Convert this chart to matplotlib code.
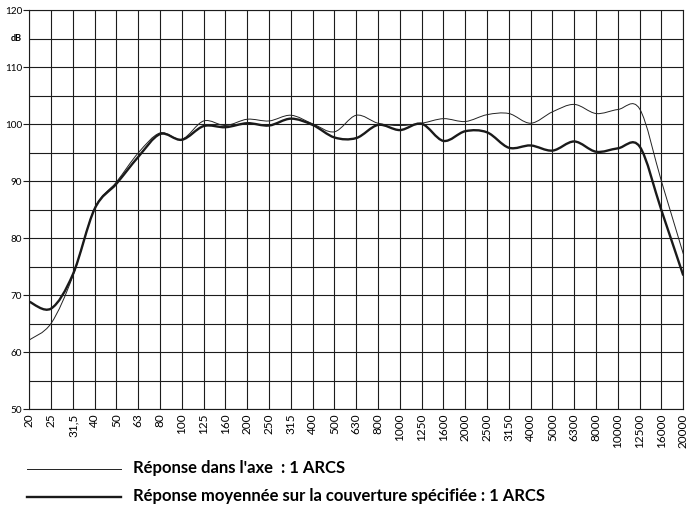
import numpy as np
import matplotlib
matplotlib.use("Agg")
import matplotlib.pyplot as plt
from matplotlib.path import Path
from matplotlib.patches import PathPatch
from matplotlib.lines import Line2D

plt.rcParams['font.family'] = ['Lato', 'DejaVu Sans']

# Third-octave bands (Hz) and measured levels (dB)
freqs = ["20", "25", "31,5", "40", "50", "63", "80", "100", "125", "160",
         "200", "250", "315", "400", "500", "630", "800", "1000", "1250", "1600",
         "2000", "2500", "3150", "4000", "5000", "6300", "8000", "10000", "12500",
         "16000", "20000"]

axe = [62.2, 65.1, 73.4, 85.3, 89.9, 95.0, 98.5, 97.4, 100.6, 99.8,
       100.9, 100.6, 101.6, 100.1, 98.7, 101.6, 100.2, 99.8, 100.2, 101.0,
       100.5, 101.7, 101.9, 100.2, 102.2, 103.5, 101.9, 102.6, 102.7,
       90.0, 77.3]

moyenne = [68.9, 67.7, 73.7, 85.2, 89.6, 94.3, 98.3, 97.3, 99.7, 99.5,
           100.2, 99.8, 101.0, 99.9, 97.7, 97.6, 99.9, 99.0, 100.1, 97.1,
           98.8, 98.6, 95.9, 96.3, 95.4, 97.0, 95.2, 95.8, 96.1,
           84.9, 73.5]

yticks = [50, 60, 70, 80, 90, 100, 110, 120]


def smooth_path(x, y):
    # Catmull-Rom segments drawn as cubic Bezier curves through the points
    pts = np.column_stack([x, y]).astype(float)
    n = len(pts)
    verts = [pts[0]]
    codes = [Path.MOVETO]
    for i in range(n - 1):
        p0 = pts[i - 1] if i > 0 else pts[i]
        p1 = pts[i]
        p2 = pts[i + 1]
        p3 = pts[i + 2] if i + 2 < n else pts[i + 1]
        c1 = p1 + (p2 - p0) / 6.0
        c2 = p2 - (p3 - p1) / 6.0
        verts += [c1, c2, p2]
        codes += [Path.CURVE4] * 3
    return Path(verts, codes)


fig = plt.figure(figsize=(6.89, 5.08), dpi=100)
ax = fig.add_axes([0.0425, 0.1939, 0.9492, 0.7858])

x = np.arange(len(freqs))
ax.set_xlim(0, len(freqs) - 1)
ax.set_ylim(50, 120)

grid_col = "#1c1c1c"
for xi in x:
    ax.axvline(xi, color=grid_col, lw=0.8, zorder=1)
for yv in range(50, 121, 5):
    ax.axhline(yv, color=grid_col, lw=0.8, zorder=1)

ax.add_patch(PathPatch(smooth_path(x, axe), fill=False, ec="#222222",
                       lw=0.7, zorder=3))
ax.add_patch(PathPatch(smooth_path(x, moyenne), fill=False, ec="#1a1a1a",
                       lw=1.7, zorder=4))

for s in ax.spines.values():
    s.set_color(grid_col)
    s.set_linewidth(0.8)

ax.set_xticks(x)
ax.set_xticklabels(freqs, rotation=90, fontsize=8.5, va="top")
ax.tick_params(axis="x", length=0, pad=3)
ax.set_yticks(yticks)
ax.set_yticklabels([str(v) for v in yticks], fontsize=7.2)
ax.tick_params(axis="y", length=4, width=0.8, color=grid_col, pad=1)
ax.text(-0.012, 115, "dB", transform=ax.get_yaxis_transform(), ha="right",
        va="center", fontsize=6.5, fontweight="bold")

# legend drawn under the chart
W, H = 689.0, 508.0
fig.add_artist(Line2D([27 / W, 121 / W], [1 - 469 / H, 1 - 469 / H],
                      color="#222222", lw=0.7))
fig.add_artist(Line2D([27 / W, 121 / W], [1 - 497 / H, 1 - 497 / H],
                      color="#1a1a1a", lw=1.7))
fig.text(133 / W, 1 - 468 / H, "Réponse dans l'axe  : 1 ARCS",
         fontsize=12, fontweight="bold", va="center", ha="left")
fig.text(133 / W, 1 - 496 / H,
         "Réponse moyennée sur la couverture spécifiée : 1 ARCS",
         fontsize=12, fontweight="bold", va="center", ha="left")

fig.savefig("out.png", dpi=100)
